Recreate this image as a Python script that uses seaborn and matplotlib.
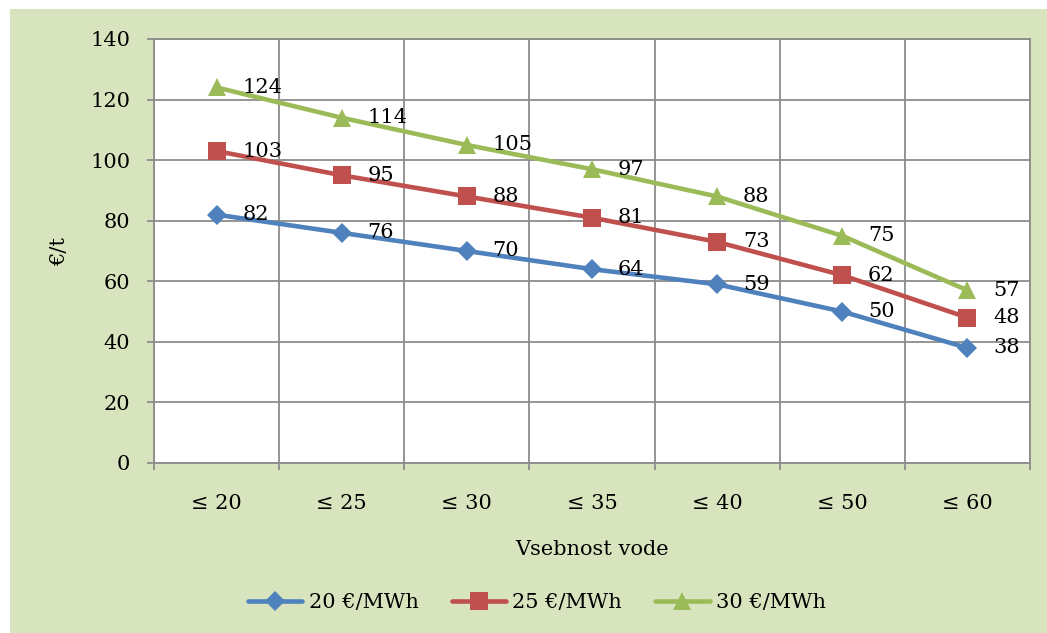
import matplotlib
matplotlib.use("Agg")
import matplotlib.pyplot as plt
from matplotlib.patches import Rectangle
import seaborn as sns
import pandas as pd

# Price of fuel per tonne vs. moisture content, for three electricity prices
categories = ["≤ 20", "≤ 25", "≤ 30", "≤ 35", "≤ 40", "≤ 50", "≤ 60"]
series_names = ["20 €/MWh", "25 €/MWh", "30 €/MWh"]
price_20 = [82, 76, 70, 64, 59, 50, 38]
price_25 = [103, 95, 88, 81, 73, 62, 48]
price_30 = [124, 114, 105, 97, 88, 75, 57]
y_ticks = [0, 20, 40, 60, 80, 100, 120, 140]

colors = ["#4F81BD", "#C0504D", "#9BBB59"]
markers = ["D", "s", "^"]
marker_sizes = [10.5, 13, 13]

sns.set_theme(style="white")
plt.rcParams["font.family"] = ["DejaVu Serif", "DejaVu Sans"]
plt.rcParams["font.size"] = 15
plt.rcParams["text.color"] = "black"
plt.rcParams["axes.labelcolor"] = "black"
plt.rcParams["xtick.color"] = "black"
plt.rcParams["ytick.color"] = "black"

FS = 15

rows = []
for name, vals in zip(series_names, [price_20, price_25, price_30]):
    for i, v in enumerate(vals):
        rows.append({"pos": i, "cat": categories[i], "value": v, "series": name})
df = pd.DataFrame(rows)

W, H = 1047, 633
fig = plt.figure(figsize=(W / 100, H / 100), dpi=100)
fig.patch.set_facecolor("white")
fig.patches.append(Rectangle((10 / W, 0), 1 - 10 / W, 1 - 9 / H,
                             transform=fig.transFigure, facecolor="#D8E4BD",
                             edgecolor="none", zorder=-10))

left, right, top, bottom = 154, 1030, 39, 463
ax = fig.add_axes([left / W, (H - bottom) / H, (right - left) / W, (bottom - top) / H])
ax.set_facecolor("white")

grid_c = "#8C8C8C"
for name, col, mk, ms in zip(series_names, colors, markers, marker_sizes):
    sub = df[df["series"] == name]
    sns.lineplot(data=sub, x="pos", y="value", ax=ax, color=col, linewidth=3.3,
                 marker=mk, markersize=ms, markeredgewidth=0, label=name,
                 zorder=3)
    for x, v in zip(sub["pos"], sub["value"]):
        ax.annotate(str(v), (x, v), xytext=(18.5, 0), textcoords="offset points",
                    ha="left", va="center", fontsize=FS, color="black", zorder=4)

ax.set_xlim(-0.5, len(categories) - 0.5)
ax.set_ylim(0, 140)
ax.set_yticks(y_ticks)
ax.set_xticks([i - 0.5 for i in range(len(categories) + 1)])
ax.set_xticklabels([])
ax.set_xticks(range(len(categories)), minor=True)
ax.set_xticklabels(categories, minor=True)

ax.grid(True, which="major", color=grid_c, linewidth=1.3)
ax.set_axisbelow(True)
for s in ax.spines.values():
    s.set_color(grid_c)
    s.set_linewidth(1.3)

ax.tick_params(axis="y", which="major", direction="out", length=5, width=1.3,
               color=grid_c, labelcolor="black", pad=12, labelsize=FS, left=True)
ax.tick_params(axis="x", which="major", direction="out", length=5, width=1.3,
               color=grid_c, bottom=True)
ax.tick_params(axis="x", which="minor", length=0, pad=22, labelsize=FS,
               labelcolor="black")

ax.set_xlabel("Vsebnost vode", fontsize=FS, labelpad=20, color="black")
ax.set_ylabel("€/t", fontsize=FS, labelpad=15, color="black")

leg = ax.legend(loc="center", bbox_to_anchor=(537 / W, 1 - 603 / H),
                bbox_transform=fig.transFigure, ncol=3, frameon=False,
                fontsize=FS, handlelength=2.6, columnspacing=1.6,
                handletextpad=0.3)
for t in leg.get_texts():
    t.set_color("black")

fig.savefig("out.png", dpi=100)
